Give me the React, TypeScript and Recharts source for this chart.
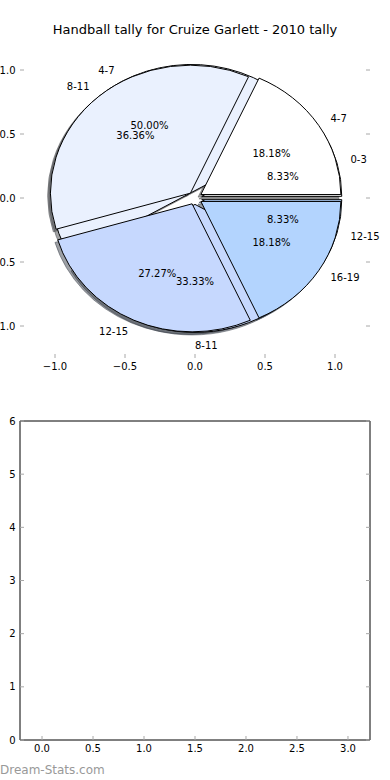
import React from 'react';
import { PieChart, Pie, ScatterChart, Scatter, XAxis, YAxis } from 'recharts';

// ---------- data ----------
const titleText = 'Handball tally for Cruize Garlett - 2010 tally';
const watermarkText = 'Dream-Stats.com';

const pie1Labels = ['0-3', '4-7', '8-11', '12-15'];
const pie1Values = [1, 6, 4, 1];

const pie2Labels = ['4-7', '8-11', '12-15', '16-19'];
const pie2Values = [2, 4, 3, 2];

const sliceColors = ['#ffffff', '#eaf1fe', '#c6d8fe', '#b3d4fe'];

const pieTicks = [-1, -0.5, 0, 0.5, 1];
const pieXDomain = [-1.25, 1.25];
const pieYDomain = [-1.25, 1.25];

const emptyXTicks = [0, 0.5, 1, 1.5, 2, 2.5, 3];
const emptyYTicks = [0, 1, 2, 3, 4, 5, 6];
const emptyXDomain = [-0.216, 3.216];
const emptyYDomain = [0, 6];

const explodeFrac = 0.05;
const shadowOffset = 0.02;

const pie1Data = pie1Labels.map((name, i) => ({ name, value: pie1Values[i], fill: sliceColors[i] }));
const pie2Data = pie2Labels.map((name, i) => ({ name, value: pie2Values[i], fill: sliceColors[i] }));

// ---------- layout ----------
const W = 390;
const TOP_H = 400;
const AX = 1; // axis band thickness (must be > 0 for Recharts to draw the axis)
const TOP_BOX = { top: 38, left: 20, right: 20, bottom: 42 };
const TOP_M = { top: TOP_BOX.top - AX, left: TOP_BOX.left - AX, right: TOP_BOX.right - AX, bottom: TOP_BOX.bottom - AX };
const PLOT_W = W - TOP_BOX.left - TOP_BOX.right; // 350
const PLOT_H = TOP_H - TOP_BOX.top - TOP_BOX.bottom; // 320
const RX = PLOT_W / (pieXDomain[1] - pieXDomain[0]);
const RY = PLOT_H / (pieYDomain[1] - pieYDomain[0]);
const CX = TOP_BOX.left + PLOT_W * (0 - pieXDomain[0]) / (pieXDomain[1] - pieXDomain[0]);
const CY = TOP_BOX.top + PLOT_H * (pieYDomain[1] - 0) / (pieYDomain[1] - pieYDomain[0]);
const YS = RY / RX;

const BOT_TOP = 400;
const BOT_H = 380;
const BOT_BOX = { top: 21, left: 20, right: 20, bottom: 40 };
const BOT_M = { top: BOT_BOX.top - AX, left: BOT_BOX.left - AX, right: BOT_BOX.right - AX, bottom: BOT_BOX.bottom - AX };

const FONT = 'DejaVu Sans';
const TICK_LEN = 4;
const TICK_COLOR = '#a8a8a8';
const tickText = { fontFamily: FONT, fontSize: 10, fill: '#000' };

const fmt1 = (v: number) => (v < 0 ? '\u2212' : '') + Math.abs(v).toFixed(1);
const fmt0 = (v: number) => String(v);

const shade = (hex: string, k: number) => {
  const n = parseInt(hex.slice(1), 16);
  const r = Math.round(((n >> 16) & 255) * k);
  const g = Math.round(((n >> 8) & 255) * k);
  const b = Math.round((n & 255) * k);
  return `rgb(${r},${g},${b})`;
};

const wedgePath = (cx: number, cy: number, rx: number, ry: number, a0: number, a1: number) => {
  const d2r = Math.PI / 180;
  const x0 = cx + rx * Math.cos(a0 * d2r);
  const y0 = cy - ry * Math.sin(a0 * d2r);
  const x1 = cx + rx * Math.cos(a1 * d2r);
  const y1 = cy - ry * Math.sin(a1 * d2r);
  const large = Math.abs(a1 - a0) > 180 ? 1 : 0;
  return `M${cx},${cy}L${x0},${y0}A${rx},${ry} 0 ${large} 0 ${x1},${y1}Z`;
};

const makeWedge = (shadow: boolean) => (props: any) => {
  const { cx, cy, outerRadius, startAngle, endAngle, payload } = props;
  const rx = outerRadius;
  const ry = outerRadius * YS;
  const mid = ((startAngle + endAngle) / 2) * Math.PI / 180;
  let ox = explodeFrac * rx * Math.cos(mid);
  let oy = -explodeFrac * ry * Math.sin(mid);
  if (shadow) {
    ox -= shadowOffset * rx;
    oy += shadowOffset * ry;
  }
  const d = wedgePath(cx + ox, cy + oy, rx, ry, startAngle, endAngle);
  const color = (payload && payload.fill) || props.fill || '#fff';
  if (shadow) {
    const c = shade(color, 0.3);
    return <path d={d} fill={c} fillOpacity={0.5} stroke={c} strokeOpacity={0.5} strokeWidth={1} />;
  }
  return <path d={d} fill={color} stroke="#000" strokeWidth={1} strokeLinejoin="round" />;
};

const emptyShape = () => <g />;

const renderLabels = (props: any) => {
  const { cx, cy, outerRadius, startAngle, endAngle, percent, name, payload } = props;
  const rx = outerRadius;
  const ry = outerRadius * YS;
  const midDeg = (startAngle + endAngle) / 2;
  const m = midDeg * Math.PI / 180;
  const c = Math.cos(m);
  const s = Math.sin(m);
  const lx = cx + (1.1 + explodeFrac) * rx * c;
  const ly = cy - (1.1 + explodeFrac) * ry * s;
  const px = cx + (0.6 + explodeFrac) * rx * c;
  const py = cy - (0.6 + explodeFrac) * ry * s;
  const anchor = c > -1e-9 ? 'start' : 'end';
  const label = name ?? (payload && payload.name);
  return (
    <g>
      <text x={lx} y={ly} textAnchor={anchor} dominantBaseline="central" fontFamily={FONT} fontSize={10} fill="#000">
        {label}
      </text>
      <text x={px} y={py} textAnchor="middle" dominantBaseline="central" fontFamily={FONT} fontSize={10} fill="#000">
        {(percent * 100).toFixed(2) + '%'}
      </text>
    </g>
  );
};

// ---------- ticks ----------
const bottomTick = (fmt: (v: number) => string, showText: boolean) => (props: any) => {
  const { x, y, payload } = props;
  return (
    <g>
      <line x1={x} x2={x} y1={y} y2={y - TICK_LEN} stroke={TICK_COLOR} strokeWidth={1} />
      {showText && (
        <text x={x} y={y + 12} textAnchor="middle" {...tickText}>
          {fmt(payload.value)}
        </text>
      )}
    </g>
  );
};

const topTick = (props: any) => {
  const { x, y } = props;
  return <line x1={x} x2={x} y1={y} y2={y + TICK_LEN} stroke={TICK_COLOR} strokeWidth={1} />;
};

const leftTick = (fmt: (v: number) => string) => (props: any) => {
  const { x, y, payload } = props;
  return (
    <g>
      <line x1={x} x2={x + TICK_LEN} y1={y} y2={y} stroke={TICK_COLOR} strokeWidth={1} />
      <text x={x - 4.5} y={y} textAnchor="end" dominantBaseline="central" {...tickText}>
        {fmt(payload.value)}
      </text>
    </g>
  );
};

const rightTick = (props: any) => {
  const { x, y } = props;
  return <line x1={x} x2={x - TICK_LEN} y1={y} y2={y} stroke={TICK_COLOR} strokeWidth={1} />;
};

const frameLine = { stroke: '#000', strokeWidth: 1 };

const axisCommon = {
  type: 'number' as const,
  allowDataOverflow: true,
  interval: 0 as const,
  tickSize: 0,
  tickMargin: 0,
  tickLine: false,
};

export default function App() {
  return (
    <div style={{ position: 'absolute', left: 0, top: 0, width: W, height: 780, background: '#fff', overflow: 'hidden' }}>
      {/* top axes (ticks only, no frame) */}
      <div style={{ position: 'absolute', left: 0, top: 0 }}>
        <ScatterChart width={W} height={TOP_H} margin={TOP_M}>
          <XAxis {...axisCommon} dataKey="x" domain={pieXDomain} ticks={pieTicks} height={AX}
            axisLine={false} tick={bottomTick(fmt1, true)} />
          <XAxis {...axisCommon} xAxisId="top" orientation="top" domain={pieXDomain} ticks={pieTicks} height={AX}
            axisLine={false} tick={topTick} />
          <YAxis {...axisCommon} dataKey="y" domain={pieYDomain} ticks={pieTicks} width={AX}
            axisLine={false} tick={leftTick(fmt1)} />
          <YAxis {...axisCommon} yAxisId="right" orientation="right" domain={pieYDomain} ticks={pieTicks} width={AX}
            axisLine={false} tick={rightTick} />
          <Scatter data={[]} isAnimationActive={false} />
        </ScatterChart>
      </div>

      {/* the two overlaid exploded pies */}
      <div style={{ position: 'absolute', left: 0, top: 0 }}>
        <PieChart width={W} height={TOP_H} margin={{ top: 0, right: 0, bottom: 0, left: 0 }}>
          <Pie data={pie1Data} dataKey="value" nameKey="name" cx={CX} cy={CY} outerRadius={RX}
            startAngle={0} endAngle={360} shape={makeWedge(true)} label={false} labelLine={false} isAnimationActive={false} />
          <Pie data={pie2Data} dataKey="value" nameKey="name" cx={CX} cy={CY} outerRadius={RX}
            startAngle={0} endAngle={360} shape={makeWedge(true)} label={false} labelLine={false} isAnimationActive={false} />
          <Pie data={pie1Data} dataKey="value" nameKey="name" cx={CX} cy={CY} outerRadius={RX}
            startAngle={0} endAngle={360} shape={makeWedge(false)} label={false} labelLine={false} isAnimationActive={false} />
          <Pie data={pie2Data} dataKey="value" nameKey="name" cx={CX} cy={CY} outerRadius={RX}
            startAngle={0} endAngle={360} shape={makeWedge(false)} label={false} labelLine={false} isAnimationActive={false} />
          <Pie data={pie1Data} dataKey="value" nameKey="name" cx={CX} cy={CY} outerRadius={RX}
            startAngle={0} endAngle={360} shape={emptyShape} label={renderLabels} labelLine={false} isAnimationActive={false} />
          <Pie data={pie2Data} dataKey="value" nameKey="name" cx={CX} cy={CY} outerRadius={RX}
            startAngle={0} endAngle={360} shape={emptyShape} label={renderLabels} labelLine={false} isAnimationActive={false} />
        </PieChart>
      </div>

      {/* bottom empty axes */}
      <div style={{ position: 'absolute', left: 0, top: BOT_TOP }}>
        <ScatterChart width={W} height={BOT_H} margin={BOT_M}>
          <XAxis {...axisCommon} dataKey="x" domain={emptyXDomain} ticks={emptyXTicks} height={AX}
            axisLine={frameLine} tick={bottomTick(fmt1, true)} />
          <XAxis {...axisCommon} xAxisId="top" orientation="top" domain={emptyXDomain} ticks={emptyXTicks} height={AX}
            axisLine={frameLine} tick={topTick} />
          <YAxis {...axisCommon} dataKey="y" domain={emptyYDomain} ticks={emptyYTicks} width={AX}
            axisLine={frameLine} tick={leftTick(fmt0)} />
          <YAxis {...axisCommon} yAxisId="right" orientation="right" domain={emptyYDomain} ticks={emptyYTicks} width={AX}
            axisLine={frameLine} tick={rightTick} />
          <Scatter data={[]} isAnimationActive={false} />
        </ScatterChart>
      </div>

      {/* title and watermark */}
      <svg width={W} height={780} style={{ position: 'absolute', left: 0, top: 0, pointerEvents: 'none' }}>
        <text x={CX} y={34} textAnchor="middle" fontFamily={FONT} fontSize={13} fill="#000">
          {titleText}
        </text>
        <text x={0} y={774} textAnchor="start" fontFamily={FONT} fontSize={12} fill="#999">
          {watermarkText}
        </text>
      </svg>
    </div>
  );
}
